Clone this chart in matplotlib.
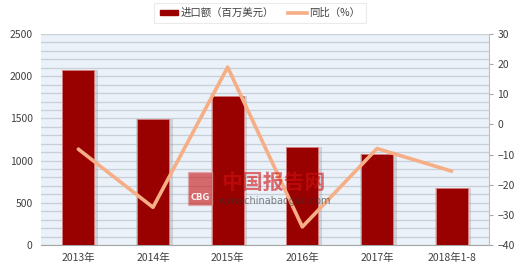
import numpy as np
import matplotlib.pyplot as plt
from matplotlib.patches import Rectangle

plt.rcParams['font.family'] = ['Noto Sans CJK SC', 'DejaVu Sans']

years = ['2013年', '2014年', '2015年', '2016年', '2017年', '2018年1-8']
imports = [2070, 1490, 1770, 1160, 1080, 680]
yoy = [-8.2, -27.5, 19, -34, -8, -15.5]

bar_color = '#990000'
line_color = '#F5AE86'
grid_color = '#C9CFD6'
text_color = '#404040'

fig = plt.figure(figsize=(5.2, 2.73), dpi=100)
ax = fig.add_axes([41 / 520, 28 / 273, 448 / 520, 211 / 273])
ax.set_facecolor('#EAF1F8')

x = np.arange(len(years))
w = 0.43
# soft shadow behind bars
ax.bar(x + 0.02, imports, width=w + 0.06, color='#9A9A9A', alpha=0.35, zorder=2)
ax.bar(x, imports, width=w, color=bar_color, edgecolor='#D98080', linewidth=0.6, zorder=3)

ax.set_xlim(-0.5, len(years) - 0.5)
ax.set_ylim(0, 2500)
ax.set_yticks(np.arange(0, 2501, 500))
ax.set_yticks(np.arange(0, 2501, 100), minor=True)
ax.grid(axis='y', which='both', color=grid_color, linewidth=0.9, zorder=0)
ax.set_axisbelow(True)
ax.set_xticks(x)
ax.set_xticklabels(years)
ax.tick_params(axis='both', which='both', length=0, labelsize=7.5, colors=text_color, pad=6)
for s in ['top', 'left', 'right']:
    ax.spines[s].set_visible(False)
ax.spines['bottom'].set_color('#A6A6A6')

ax2 = ax.twinx()
ax2.plot(x, yoy, color=line_color, linewidth=2.6, zorder=5, solid_capstyle='round')
ax2.set_ylim(-40, 30)
ax2.set_yticks(np.arange(-40, 31, 10))
ax2.tick_params(axis='y', length=3, color='#A6A6A6', labelsize=7.5, labelcolor=text_color, pad=3)
for s in ['top', 'left', 'bottom']:
    ax2.spines[s].set_visible(False)
ax2.spines['right'].set_color('#BFBFBF')

# watermark
logo = Rectangle((188 / 520, 1 - 205 / 273), 24 / 520, 33 / 273, transform=fig.transFigure,
                 facecolor='#C81010', edgecolor='#E0A0A0', alpha=0.6, zorder=10)
fig.patches.append(logo)
fig.text(200 / 520, 1 - 198 / 273, 'CBG', color='white', fontsize=6, fontweight='bold',
         ha='center', va='center', alpha=0.9, zorder=11, family=['DejaVu Sans'])
fig.text(273 / 520, 1 - 182 / 273, '中国报告网', color='#D01010', alpha=0.6, fontsize=15,
         fontweight='bold', ha='center', va='center', zorder=11)
fig.text(275 / 520, 1 - 201 / 273, 'www.chinabaogao.com', color='#333333', alpha=0.6,
         fontsize=7, ha='center', va='center', zorder=11, family=['DejaVu Sans'])

# legend
h1 = Rectangle((0, 0), 1, 1, color=bar_color)
h2, = ax.plot([], [], color=line_color, linewidth=2.6)
leg = fig.legend([h1, h2], ['进口额（百万美元）', '同比（%）'], loc='center',
                 bbox_to_anchor=(0.5, 0.952), ncol=2, fontsize=7.5, frameon=True,
                 fancybox=False, shadow=False, handlelength=1.8, handleheight=0.5,
                 handletextpad=0.2, columnspacing=1.4, borderpad=0.5)
leg.get_frame().set_edgecolor('#E6E6E6')
leg.get_frame().set_linewidth(0.8)
for t in leg.get_texts():
    t.set_color(text_color)

fig.savefig('out.png', dpi=100)
